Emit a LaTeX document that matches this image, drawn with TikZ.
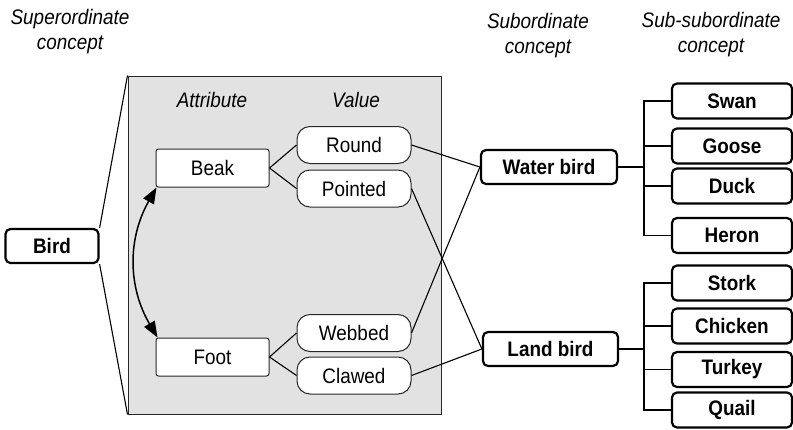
\documentclass[tikz,border=0pt]{standalone}
\usepackage{fontspec}
\setmainfont[FakeStretch=0.9]{Liberation Sans}
\usetikzlibrary{arrows.meta}
\definecolor{panelgray}{RGB}{226,226,226}
\definecolor{linegray}{RGB}{40,40,40}
\begin{document}
\begin{tikzpicture}[x=1pt,y=-1pt,
  every node/.style={inner sep=0pt},
  heading/.style={font=\fontsize{21}{25}\selectfont\itshape, align=center},
  concept/.style={draw=black, line width=2.2pt, fill=white, rounded corners=5pt,
    font=\fontsize{21}{22}\selectfont\bfseries, minimum height=34pt},
  attr/.style={draw=linegray, line width=1pt, fill=white, rounded corners=2.5pt,
    font=\fontsize{21}{22}\selectfont, minimum width=113pt, minimum height=38pt},
  valuebox/.style={draw=linegray, line width=1pt, fill=white, rounded corners=13pt,
    font=\fontsize{21}{22}\selectfont, minimum width=114pt, minimum height=37pt},
  leaf/.style={concept, minimum width=120pt, minimum height=35pt},
  link/.style={draw=black, line width=1.1pt}
]
\useasboundingbox (0,0) rectangle (793,429);

% headings
\node[heading] (hsup) at (70,32) {Superordinate\\concept};
\node[heading] (hsub) at (538,36) {Subordinate\\concept};
\node[heading] (hssub) at (711,35) {Sub-subordinate\\concept};

% panel
\node[draw=linegray, line width=1pt, fill=panelgray, minimum width=313pt, minimum height=338pt] (panel) at (284.5,245) {};
\node[font=\fontsize{21}{22}\selectfont\itshape] (hattr) at (212,100) {Attribute};
\node[font=\fontsize{21}{22}\selectfont\itshape] (hval) at (356,100) {Value};

% superordinate
\node[concept, minimum width=93pt] (bird) at (52,246) {Bird};
\draw[link] (bird.north east) -- (panel.north west);
\draw[link] (bird.south east) -- (panel.south west);

% attributes and values
\node[attr] (beak) at (212.5,168) {Beak};
\node[attr] (foot) at (212.5,357) {Foot};
\node[valuebox] (round) at (354,145) {Round};
\node[valuebox] (pointed) at (354,188.5) {Pointed};
\node[valuebox] (webbed) at (354,333) {Webbed};
\node[valuebox] (clawed) at (354,375.5) {Clawed};

\draw[link] (beak.east) -- (round.west);
\draw[link] (beak.east) -- (pointed.west);
\draw[link] (foot.east) -- (webbed.west);
\draw[link] (foot.east) -- (clawed.west);

\draw[link, line width=1.5pt, {Triangle[length=16pt,width=12pt]}-{Triangle[length=16pt,width=12pt]}]
  ([xshift=1pt]beak.south west) to[bend right=30] ([xshift=2pt]foot.north west);

% subordinate
\node[concept, minimum width=136pt] (wb) at (549,167) {Water bird};
\node[concept, minimum width=135pt] (lb) at (550.5,349) {Land bird};

\draw[link] (round.east) -- (wb.west);
\draw[link] (webbed.east) -- (wb.west);
\draw[link] (pointed.east) -- (lb.west);
\draw[link] (clawed.east) -- (lb.west);

% sub-subordinate
\node[leaf] (swan) at (732,101) {Swan};
\node[leaf] (goose) at (732,146) {Goose};
\node[leaf] (duck) at (732,186) {Duck};
\node[leaf] (heron) at (732,235.5) {Heron};
\node[leaf] (stork) at (732,283) {Stork};
\node[leaf] (chicken) at (732,326) {Chicken};
\node[leaf] (turkey) at (732,369.5) {Turkey};
\node[leaf] (quail) at (732,410) {Quail};

\coordinate (wj) at (644,167);
\coordinate (lj) at (644,349);
\draw[link] (wb.east) -- (wj);
\draw[link] (lb.east) -- (lj);
\foreach \n in {swan,goose,duck,heron}{\draw[link] (\n.west) -| (wj);}
\foreach \n in {stork,chicken,turkey,quail}{\draw[link] (\n.west) -| (lj);}
\end{tikzpicture}
\end{document}
